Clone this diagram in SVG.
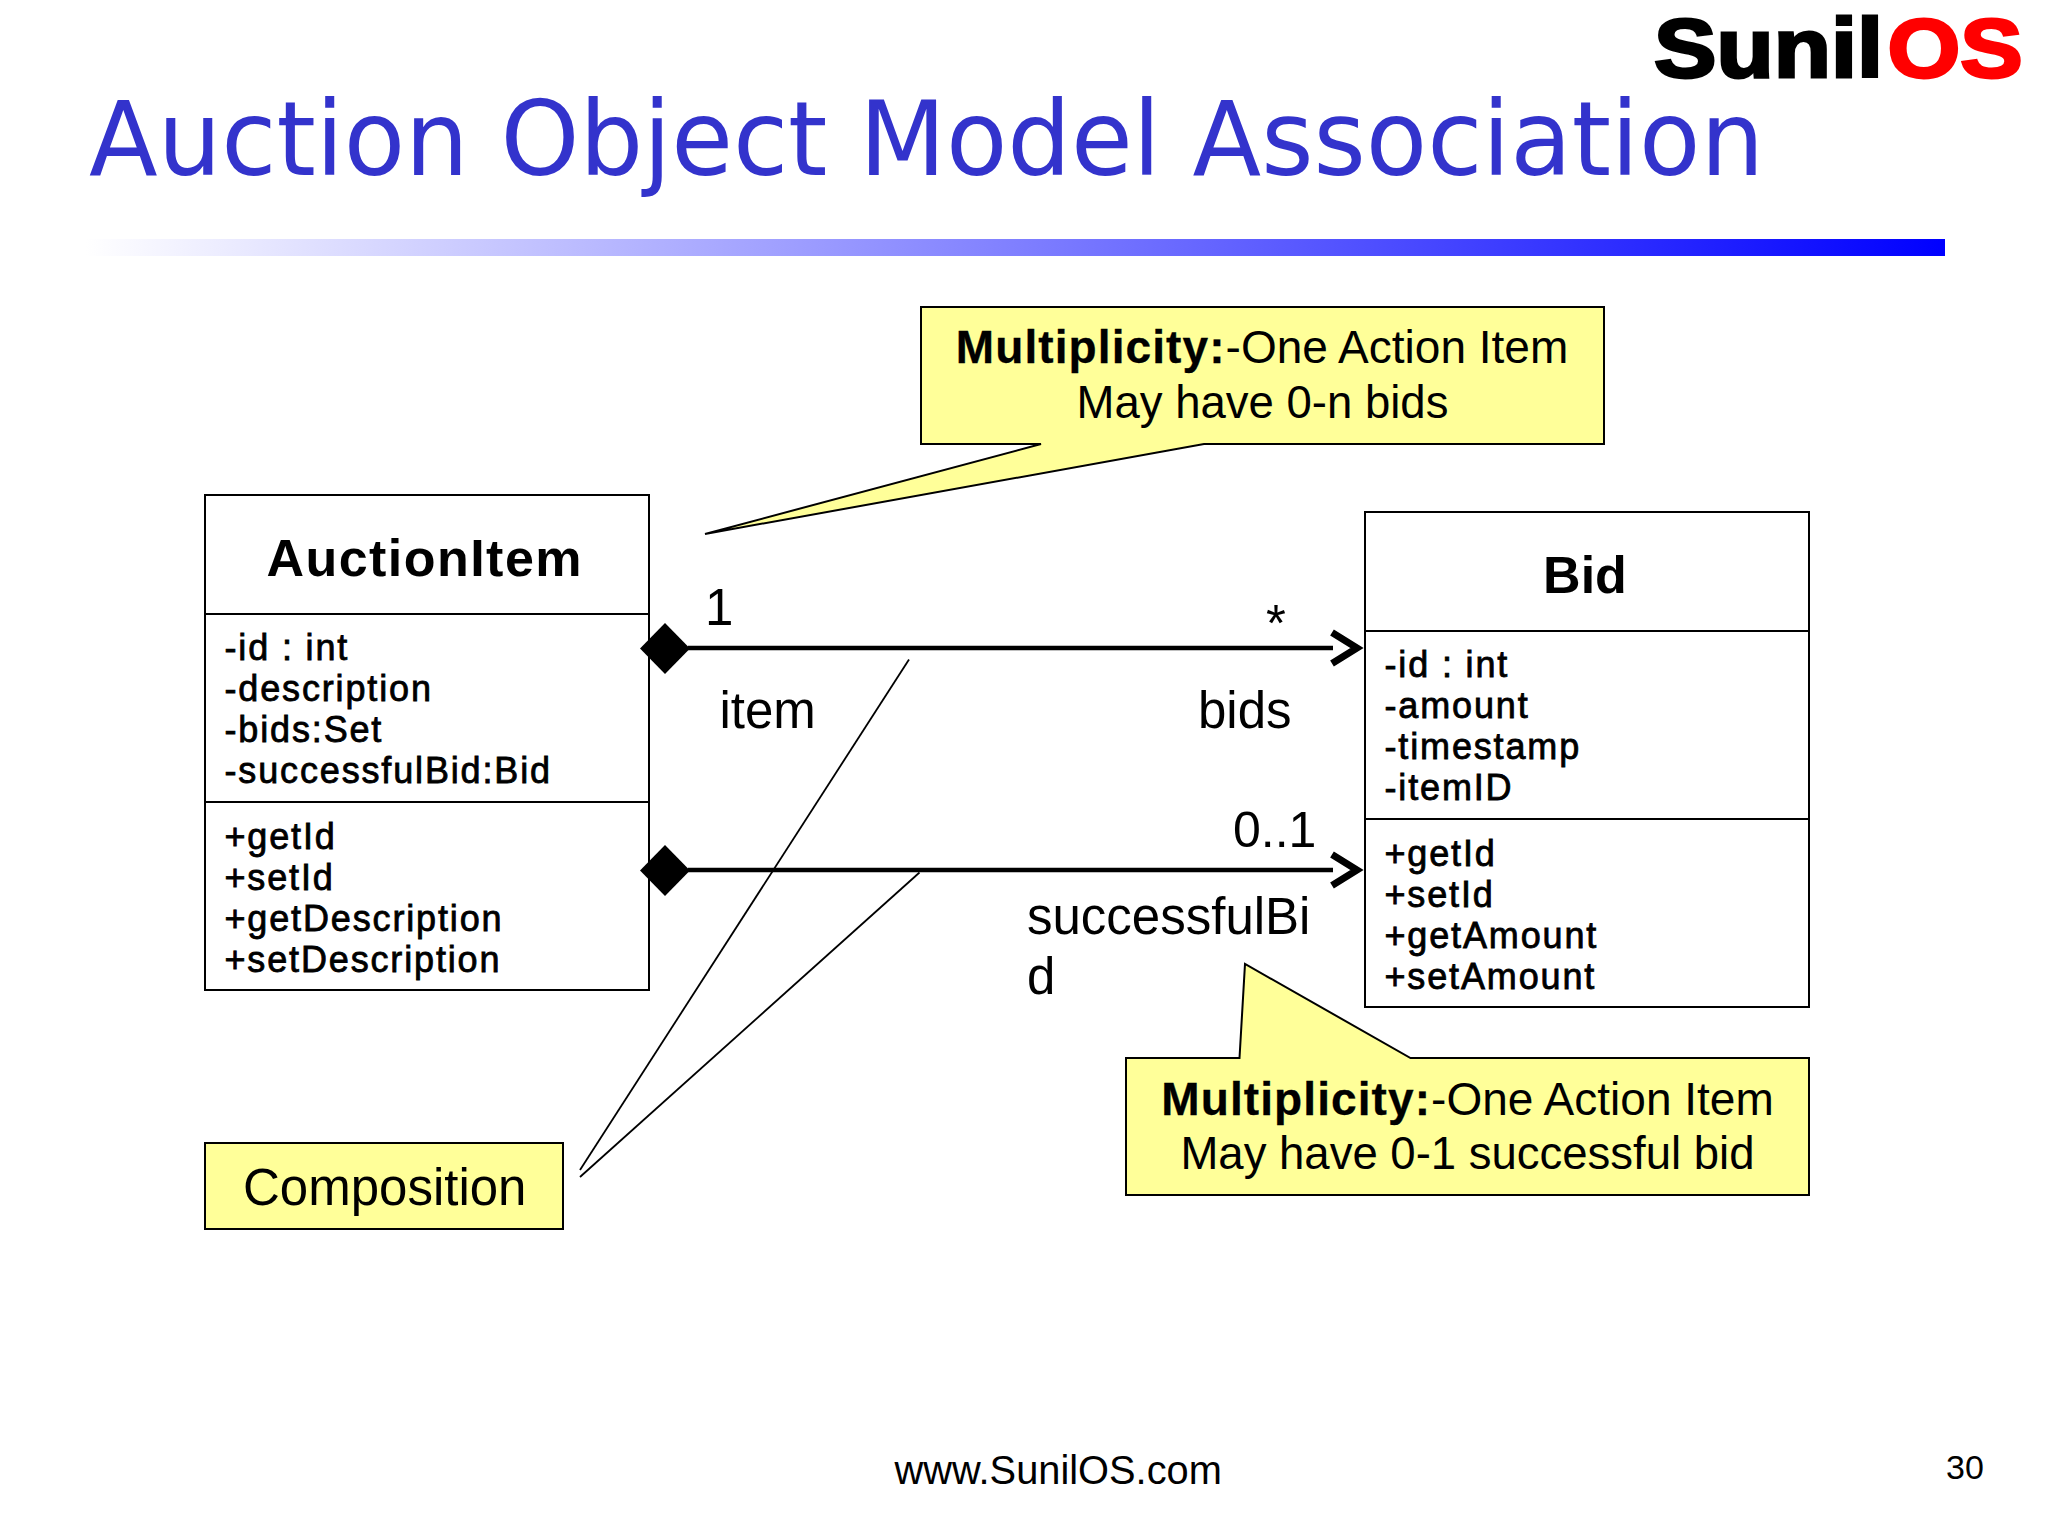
<svg xmlns="http://www.w3.org/2000/svg" width="2048" height="1536" viewBox="0 0 2048 1536">
<style>
text{font-family:"Liberation Sans",Arial,sans-serif;fill:#000}
.box{fill:#fff;stroke:#000;stroke-width:2}
.div{stroke:#000;stroke-width:2;fill:none}
.note{fill:#ffff99;stroke:#000;stroke-width:2}
.name{font-size:52px;font-weight:bold;text-anchor:middle}
.m{font-size:36px;stroke:#000;stroke-width:.8;letter-spacing:1.85px}
.lab{font-size:51px}
.n{font-size:46px;text-anchor:middle}
.n2{font-size:45.500px;text-anchor:middle}
.b{font-weight:bold;stroke:#000;stroke-width:.3;letter-spacing:1.1px}
.conn{stroke:#000;stroke-width:4.500px;fill:none}
.ptr{stroke:#000;stroke-width:1.8;fill:none}
</style>
<defs>
<linearGradient id="bar" x1="0" x2="1" y1="0" y2="0"><stop offset="0" stop-color="#fff"/><stop offset="1" stop-color="#00f"/></linearGradient>
<marker id="open" markerUnits="userSpaceOnUse" viewBox="0 0 40 44" markerWidth="40" markerHeight="44" refX="3" refY="22" orient="auto"><path d="M2 6.500 27 22 2 37.500" fill="none" stroke="#000" stroke-width="7"/></marker>
</defs>
<rect width="2048" height="1536" fill="#fff"/>
<g id="logo"><text transform="translate(1654 76.500) scale(1.115 1)" font-size="84" font-weight="bold" stroke-width="3"><tspan stroke="#000">Sunil</tspan><tspan dx="4" style="fill:#ff0000" stroke="#ff0000">OS</tspan></text></g>
<g id="title"><text x="89" y="175" font-size="103" style="font-family:'DejaVu Sans',sans-serif;fill:#3333cc" textLength="1675" lengthAdjust="spacingAndGlyphs">Auction Object Model Association</text></g>
<rect id="bar-rule" x="85" y="239" width="1860" height="17" fill="url(#bar)"/>

<g id="node-auctionitem">
<rect class="box" x="205" y="495" width="444" height="495"/>
<path class="div" d="M205 614H649M205 802H649"/>
<text class="name" x="424" y="576" textLength="315">AuctionItem</text>
<text class="m" x="224.500" y="660">-id : int</text>
<text class="m" x="224.500" y="701">-description</text>
<text class="m" x="224.500" y="742">-bids:Set</text>
<text class="m" x="224.500" y="783">-successfulBid:Bid</text>
<text class="m" x="224.500" y="849">+getId</text>
<text class="m" x="224.500" y="890">+setId</text>
<text class="m" x="224.500" y="931">+getDescription</text>
<text class="m" x="224.500" y="972">+setDescription</text>
</g>

<g id="node-bid">
<rect class="box" x="1365" y="512" width="444" height="495"/>
<path class="div" d="M1365 631H1809M1365 819H1809"/>
<text class="name" x="1585" y="593">Bid</text>
<text class="m" x="1384.500" y="677">-id : int</text>
<text class="m" x="1384.500" y="718">-amount</text>
<text class="m" x="1384.500" y="759">-timestamp</text>
<text class="m" x="1384.500" y="800">-itemID</text>
<text class="m" x="1384.500" y="866">+getId</text>
<text class="m" x="1384.500" y="907">+setId</text>
<text class="m" x="1384.500" y="948">+getAmount</text>
<text class="m" x="1384.500" y="989">+setAmount</text>
</g>

<g id="connectors">
<path class="conn" d="M688 648H1333" marker-end="url(#open)"/>
<path class="conn" d="M688 870H1333" marker-end="url(#open)"/>
<path d="M640 648.500 665 623 690 648.500 665 674Z" fill="#000"/>
<path d="M640 870.500 665 845 690 870.500 665 896Z" fill="#000"/>
<path class="ptr" d="M909 659.500 580 1170"/>
<path class="ptr" d="M919.500 872.500 580 1177"/>
</g>

<g id="labels">
<text class="lab" x="705" y="625">1</text>
<text class="lab" x="1266" y="641">*</text>
<text class="lab" x="719.500" y="728">item</text>
<text class="lab" x="1198" y="728">bids</text>
<text x="1233" y="847" font-size="50">0..1</text>
<text class="lab" x="1027" y="934">successfulBi</text>
<text class="lab" x="1027" y="994">d</text>
</g>

<g id="note-multiplicity-many">
<path class="note" d="M921 307H1604V444H1204L705 534 1041 444H921Z"/>
<text class="n" x="1262" y="363"><tspan class="b">Multiplicity:</tspan>-One Action Item</text>
<text class="n2" x="1262.500" y="417.500">May have 0-n bids</text>
</g>

<g id="note-multiplicity-one">
<path class="note" d="M1126 1058H1239.500L1245 964 1410.500 1058H1809V1195H1126Z"/>
<text class="n" x="1467.500" y="1115"><tspan class="b">Multiplicity:</tspan>-One Action Item</text>
<text class="n2" x="1467.500" y="1169">May have 0-1 successful bid</text>
</g>

<g id="note-composition">
<rect class="note" x="205" y="1143" width="358" height="86"/>
<text class="lab" x="243" y="1205">Composition</text>
</g>

<g id="footer">
<text x="894.500" y="1484" font-size="39.800">www.SunilOS.com</text>
<text x="1946" y="1479" font-size="34">30</text>
</g>
</svg>
